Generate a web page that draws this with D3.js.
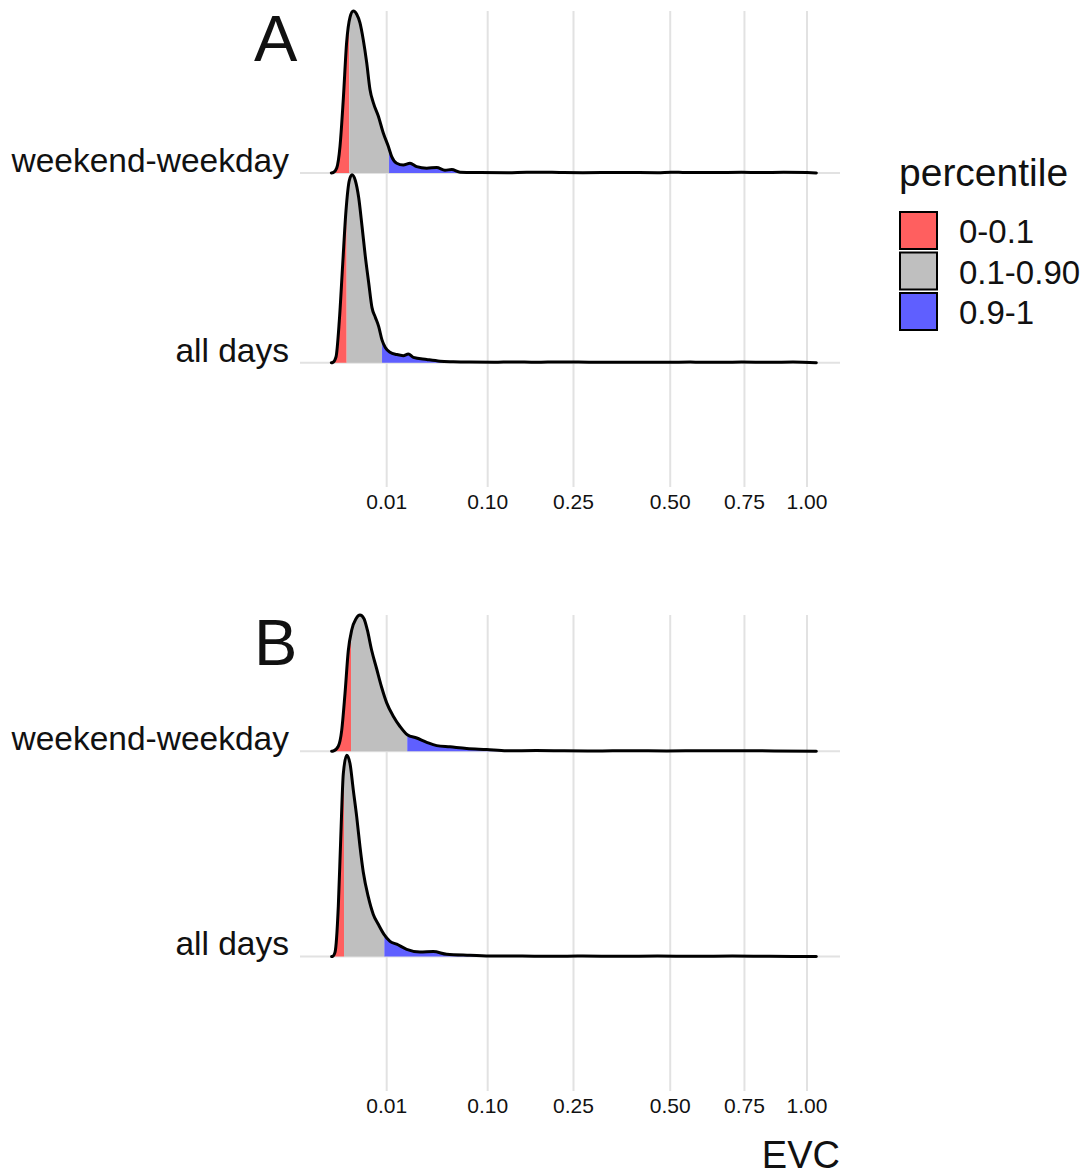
<!DOCTYPE html>
<html lang="en">
<head>
    <meta charset="UTF-8">
    <title>EVC ridgelines</title>
    <script src="https://d3js.org/d3.v7.min.js"></script>
    <style>
        body {
            margin: 0;
            padding: 0;
            background-color: #ffffff;
            font-family: 'Liberation Sans', Arial, sans-serif;
        }
        svg text {
            fill: #111;
        }
    </style>
</head>
<body>
<svg id="chart" width="1089" height="1176"></svg>

<script>
    // ---- data (x values are sqrt(EVC), heights relative to ridge spacing) ----
    const panelNames = ["A", "B"];
    const ridgeNames = ["all days", "weekend-weekday"];
    const percentileLabels = ["0-0.1", "0.1-0.90", "0.9-1"];
    const tickValues = [0.01, 0.10, 0.25, 0.50, 0.75, 1.00];
    const tickLabels = ["0.01", "0.10", "0.25", "0.50", "0.75", "1.00"];

    const aWeekendX = [-0.0186, -0.0143, -0.0071, 0, 0.0071, 0.0143, 0.0214, 0.0285, 0.0358, 0.0428, 0.0499, 0.0572, 0.0642, 0.0713, 0.082, 0.0927, 0.1034, 0.1107, 0.1214, 0.1355, 0.1499, 0.1642, 0.1857, 0.2071, 0.2248, 0.2392, 0.257, 0.30, 0.36, 0.40, 0.43, 0.47, 0.52, 0.6, 0.68, 0.71, 0.74, 0.8, 0.86, 0.9, 0.95, 1.0, 1.02];
    const aWeekendH = [0, 0.002, 0.025, 0.14, 0.39, 0.69, 0.82, 0.853, 0.836, 0.79, 0.70, 0.58, 0.44, 0.37, 0.30, 0.21, 0.14, 0.086, 0.051, 0.042, 0.051, 0.033, 0.025, 0.028, 0.014, 0.018, 0.004, 0.002, 0.001, 0.004, 0.004, 0.002, 0.001, 0.002, 0.001, 0.004, 0.002, 0.002, 0.003, 0.002, 0.003, 0.002, 0];
    const aWeekendBreaks = [0.0199, 0.105];

    const aAllX = [-0.0186, -0.0156, -0.0086, -0.0015, 0.0058, 0.0128, 0.0199, 0.0257, 0.0328, 0.04, 0.0471, 0.0542, 0.0615, 0.0685, 0.0756, 0.0829, 0.0899, 0.097, 0.1071, 0.1214, 0.1355, 0.1463, 0.157, 0.1857, 0.2141, 0.2426, 0.2784, 0.33, 0.37, 0.42, 0.47, 0.55, 0.62, 0.7, 0.75, 0.82, 0.86, 0.92, 0.97, 1.02];
    const aAllH = [0, 0.001, 0.03, 0.22, 0.52, 0.80, 0.96, 0.99, 0.96, 0.87, 0.72, 0.56, 0.42, 0.29, 0.24, 0.19, 0.12, 0.08, 0.055, 0.043, 0.037, 0.046, 0.028, 0.017, 0.008, 0.005, 0.003, 0.002, 0.004, 0.002, 0.004, 0.002, 0.002, 0.002, 0.003, 0.002, 0.003, 0.002, 0.003, 0];
    const aAllBreaks = [0.0143, 0.090];

    const bWeekendX = [-0.018, -0.0143, -0.0036, 0.0036, 0.0107, 0.0178, 0.0251, 0.0343, 0.0428, 0.0514, 0.0585, 0.0679, 0.0786, 0.0893, 0.1, 0.1141, 0.1285, 0.1441, 0.1642, 0.1857, 0.2071, 0.2355, 0.2713, 0.3141, 0.357, 0.42, 0.48, 0.55, 0.62, 0.7, 0.78, 0.86, 0.93, 1.02];
    const bWeekendH = [0, 0.001, 0.024, 0.10, 0.28, 0.49, 0.59, 0.645, 0.663, 0.645, 0.59, 0.49, 0.40, 0.31, 0.235, 0.17, 0.12, 0.08, 0.064, 0.043, 0.027, 0.021, 0.013, 0.008, 0.002, 0.003, 0.002, 0.001, 0.002, 0.001, 0.002, 0.002, 0.001, 0];
    const bWeekendBreaks = [0.0236, 0.144];

    const bAllX = [-0.018, -0.0156, -0.0107, -0.0036, 0.0015, 0.0071, 0.0143, 0.0214, 0.0285, 0.0358, 0.0428, 0.0499, 0.0606, 0.0713, 0.082, 0.0942, 0.1071, 0.1214, 0.1428, 0.1713, 0.1998, 0.2285, 0.2784, 0.3283, 0.38, 0.45, 0.52, 0.6, 0.68, 0.76, 0.84, 0.92, 1.02];
    const bAllH = [0, 0.001, 0.02, 0.245, 0.57, 0.89, 0.98, 0.94, 0.81, 0.68, 0.535, 0.41, 0.29, 0.205, 0.157, 0.108, 0.074, 0.06, 0.035, 0.022, 0.024, 0.011, 0.006, 0.002, 0.002, 0.001, 0.002, 0.001, 0.002, 0.001, 0.002, 0.001, 0];
    const bAllBreaks = [0.0086, 0.0949];

    const fillColors = ["#ff5f5f", "#bfbfbf", "#5f5fff"];

    // ---- layout ----
    const svg = d3.select("#chart");
    const plotLeft = 300, plotRight = 840;
    const x = d3.scaleLinear().domain([0, 1]).range([340, 807]);  // sqrt(EVC) space

    const panels = [
        {name: panelNames[0], top: 11, bottom: 487,
         ridges: [{pos: 2, xs: aWeekendX, hs: aWeekendH, breaks: aWeekendBreaks},
                  {pos: 1, xs: aAllX, hs: aAllH, breaks: aAllBreaks}]},
        {name: panelNames[1], top: 615, bottom: 1091,
         ridges: [{pos: 2, xs: bWeekendX, hs: bWeekendH, breaks: bWeekendBreaks},
                  {pos: 1, xs: bAllX, hs: bAllH, breaks: bAllBreaks}]}
    ];

    let clipId = 0;

    panels.forEach(function (p) {
        const hi = d3.max(p.ridges, r => r.pos + d3.max(r.hs));
        const y = d3.scaleLinear().domain([0.345, hi]).range([p.bottom, p.top]);
        const g = svg.append("g");

        // vertical grid
        g.selectAll(".vgrid")
            .data(tickValues)
            .enter().append("line")
            .attr("x1", d => x(Math.sqrt(d))).attr("x2", d => x(Math.sqrt(d)))
            .attr("y1", p.top).attr("y2", p.bottom)
            .style("stroke", "#e2e2e2").attr("stroke-width", 2);

        // horizontal baselines
        g.selectAll(".hgrid")
            .data([1, 2])
            .enter().append("line")
            .attr("x1", plotLeft).attr("x2", plotRight)
            .attr("y1", d => y(d)).attr("y2", d => y(d))
            .style("stroke", "#e2e2e2").attr("stroke-width", 2);

        // y labels
        g.selectAll(".ylab")
            .data(ridgeNames)
            .enter().append("text")
            .attr("x", 289)
            .attr("y", (d, i) => y(i + 1) - 1)
            .attr("text-anchor", "end")
            .style("font-size", "33.5px")
            .text(d => d);

        // x tick labels
        g.selectAll(".xlab")
            .data(tickValues)
            .enter().append("text")
            .attr("x", d => x(Math.sqrt(d)))
            .attr("y", p.bottom + 22)
            .attr("text-anchor", "middle")
            .style("font-size", "21px")
            .text((d, i) => tickLabels[i]);

        // panel tag
        g.append("text")
            .attr("x", 254)
            .attr("y", p.top + 50)
            .style("font-size", "65px")
            .text(p.name);

        // ridges: top one first so the lower one overlaps it
        p.ridges.forEach(function (r) {
            const pts = r.xs.map((v, i) => [v, r.hs[i]]);
            const area = d3.area()
                .x(d => x(d[0]))
                .y0(y(r.pos))
                .y1(d => y(r.pos + d[1]))
                .curve(d3.curveMonotoneX);
            const line = d3.line()
                .x(d => x(d[0]))
                .y(d => y(r.pos + d[1]))
                .curve(d3.curveMonotoneX);

            const edges = [r.xs[0], r.breaks[0], r.breaks[1], r.xs[r.xs.length - 1]];
            fillColors.forEach(function (c, k) {
                const id = "clip" + (clipId++);
                svg.append("clipPath").attr("id", id)
                    .append("rect")
                    .attr("x", x(edges[k]))
                    .attr("width", x(edges[k + 1]) - x(edges[k]))
                    .attr("y", 0).attr("height", 1176);
                g.append("path")
                    .datum(pts)
                    .attr("clip-path", "url(#" + id + ")")
                    .attr("d", area)
                    .attr("fill", c);
            });

            g.append("path")
                .datum(pts)
                .attr("d", line)
                .attr("fill", "none")
                .attr("stroke", "#000")
                .attr("stroke-width", 3)
                .attr("stroke-linejoin", "round")
                .attr("stroke-linecap", "round");
        });
    });

    // x axis title
    svg.append("text")
        .attr("x", 840)
        .attr("y", 1168)
        .attr("text-anchor", "end")
        .style("font-size", "38px")
        .text("EVC");

    // legend
    const legend = svg.append("g");
    legend.append("text")
        .attr("x", 899)
        .attr("y", 186)
        .style("font-size", "39px")
        .text("percentile");

    const keys = legend.selectAll(".key")
        .data(percentileLabels)
        .enter().append("g")
        .attr("transform", (d, i) => "translate(900," + (212 + i * 40.5) + ")");
    keys.append("rect")
        .attr("width", 37).attr("height", 37)
        .attr("fill", (d, i) => fillColors[i])
        .attr("stroke", "#000").attr("stroke-width", 2);
    keys.append("text")
        .attr("x", 59)
        .attr("y", 31)
        .style("font-size", "33px")
        .text(d => d);
</script>
</body>
</html>
